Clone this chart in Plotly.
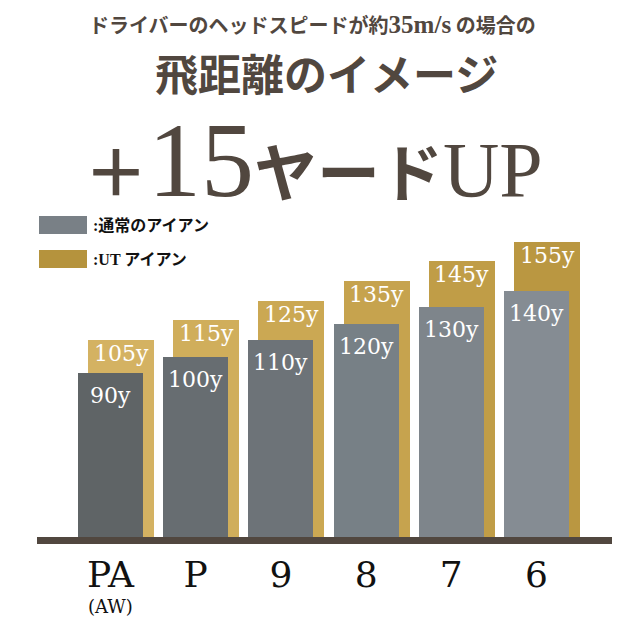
import plotly.graph_objects as go

# ---------------- data ----------------
clubs = ["PA", "P", "9", "8", "7", "6"]
regular_iron = [90, 100, 110, 120, 130, 140]   # 通常のアイアン (yards)
ut_iron = [105, 115, 125, 135, 145, 155]        # UT アイアン (yards)
unit = "y"
pa_sub_label = "(AW)"
title_line1 = "ドライバーのヘッドスピードが約<span style='font-family:Liberation Serif;font-size:25px'>35m/s</span> の場合の"
title_line2 = "飛距離のイメージ"
headline = ("<span style='font-family:Noto Sans CJK JP;font-size:64px;font-weight:bold'>＋</span>15"
            "<span style='font-family:Noto Sans CJK JP;font-size:63px;font-weight:bold'>ヤード</span>"
            "<span style='font-size:78px'>UP</span>")
legend_regular = ":通常のアイアン"
legend_ut = ":UT アイアン"

# ---------------- styles ----------------
W, H = 640, 640
PAGE = 8                       # browser body margin: figure sits 8px in from the page corner
# wanted page positions of the plot area
P_LEFT, P_RIGHT, P_TOP, P_BOTTOM = 37, 612, 200, 537
ML, MT = P_LEFT - PAGE, P_TOP - PAGE
MR, MB = W - (P_RIGHT - PAGE), H - (P_BOTTOM - PAGE)
TEXT = "#51473F"
gray_colors = ["#5F6466", "#676D71", "#6D7378", "#778086", "#7E858B", "#858C93"]
gold_colors = ["#D4B262", "#D0AE5B", "#CBA853", "#C6A34E", "#C09D47", "#BA9741"]
GRAY_FLOOR, GRAY_TOP = -10, 195.5     # axis range of the regular-iron scale
GOLD_FLOOR, GOLD_TOP = 5, 176.2       # axis range of the UT-iron scale
GRAY_W, GRAY_OFF = 0.762, -0.381
GOLD_W, GOLD_OFF = 0.774, -0.264
SERIF = "Liberation Serif, Noto Sans CJK JP"
LABEL_SERIF = "DejaVu Serif"
JP = "Noto Sans CJK JP"

pw, ph = P_RIGHT - P_LEFT, P_BOTTOM - P_TOP


def px_x(p):
    return (p - P_LEFT) / pw


def px_y(p):
    return (P_BOTTOM - p) / ph


fig = go.Figure()

# UT iron bars (drawn underneath)
fig.add_trace(go.Bar(
    x=clubs, y=[v - GOLD_FLOOR for v in ut_iron], base=GOLD_FLOOR,
    width=GOLD_W, offset=GOLD_OFF, marker=dict(color=gold_colors, line=dict(width=0)),
    yaxis="y", name="UT アイアン", customdata=ut_iron,
    hovertemplate="%{x}: %{customdata}y<extra></extra>", showlegend=False,
))
# regular iron bars (on top)
fig.add_trace(go.Bar(
    x=clubs, y=[v - GRAY_FLOOR for v in regular_iron], base=GRAY_FLOOR,
    width=GRAY_W, offset=GRAY_OFF, marker=dict(color=gray_colors, line=dict(width=0)),
    yaxis="y2", name="通常のアイアン", customdata=regular_iron,
    hovertemplate="%{x}: %{customdata}y<extra></extra>", showlegend=False,
))

annotations = []
for i, v in enumerate(ut_iron):
    annotations.append(dict(x=i, y=v, xref="x", yref="y", text=f"{v}{unit}", showarrow=False,
                            xanchor="center", yanchor="top", xshift=10.5, yshift=1,
                            font=dict(family=LABEL_SERIF, size=22, color="white")))
for i, v in enumerate(regular_iron):
    annotations.append(dict(x=i, y=v, xref="x", yref="y2", text=f"{v}{unit}", showarrow=False,
                            xanchor="center", yanchor="top", yshift=-8,
                            font=dict(family=LABEL_SERIF, size=22, color="white")))

annotations.append(dict(x=0, y=px_y(606), xref="x", yref="paper", text=pa_sub_label,
                        showarrow=False, xanchor="center", yanchor="middle",
                        font=dict(family=LABEL_SERIF, size=18, color="#111111")))

# titles
annotations.append(dict(x=px_x(312), y=px_y(25), xref="paper", yref="paper", text=f"<b>{title_line1}</b>",
                        showarrow=False, xanchor="center", yanchor="middle",
                        font=dict(family=JP, size=20, color=TEXT)))
annotations.append(dict(x=px_x(326), y=px_y(72), xref="paper", yref="paper", text=f"<b>{title_line2}</b>",
                        showarrow=False, xanchor="center", yanchor="middle",
                        font=dict(family=JP, size=43, color=TEXT)))
annotations.append(dict(x=px_x(313), y=px_y(161), xref="paper", yref="paper", text=headline,
                        showarrow=False, xanchor="center", yanchor="middle",
                        font=dict(family=SERIF, size=106, color=TEXT)))

# legend
shapes = [
    dict(type="rect", xref="paper", yref="paper", x0=px_x(39), x1=px_x(87), y0=px_y(234), y1=px_y(216),
         fillcolor="#798086", line=dict(width=0), layer="above"),
    dict(type="rect", xref="paper", yref="paper", x0=px_x(39), x1=px_x(87), y0=px_y(268), y1=px_y(250),
         fillcolor="#B5933D", line=dict(width=0), layer="above"),
]
annotations.append(dict(x=px_x(91), y=px_y(225), xref="paper", yref="paper", text=f"<b>{legend_regular}</b>",
                        showarrow=False, xanchor="left", yanchor="middle",
                        font=dict(family=SERIF, size=16, color="#111111")))
annotations.append(dict(x=px_x(91), y=px_y(259), xref="paper", yref="paper", text=f"<b>{legend_ut}</b>",
                        showarrow=False, xanchor="left", yanchor="middle",
                        font=dict(family=SERIF, size=16, color="#111111")))

fig.update_layout(
    width=W, height=H,
    margin=dict(l=ML, r=MR, t=MT, b=MB, pad=0),
    paper_bgcolor="white", plot_bgcolor="white",
    barmode="overlay", bargap=0,
    showlegend=False,
    xaxis=dict(type="category", range=[-0.8627, 5.886], showgrid=False, zeroline=False,
               showline=True, linewidth=7, linecolor="#51473F", ticks="",
               tickfont=dict(family=LABEL_SERIF, size=36, color="#111111"), ticklabelstandoff=0,
               fixedrange=True),
    yaxis=dict(range=[GOLD_FLOOR, GOLD_TOP], visible=False, fixedrange=True),
    yaxis2=dict(range=[GRAY_FLOOR, GRAY_TOP], visible=False, overlaying="y", fixedrange=True),
    annotations=annotations,
    shapes=shapes,
)

fig.write_html("out.html")
